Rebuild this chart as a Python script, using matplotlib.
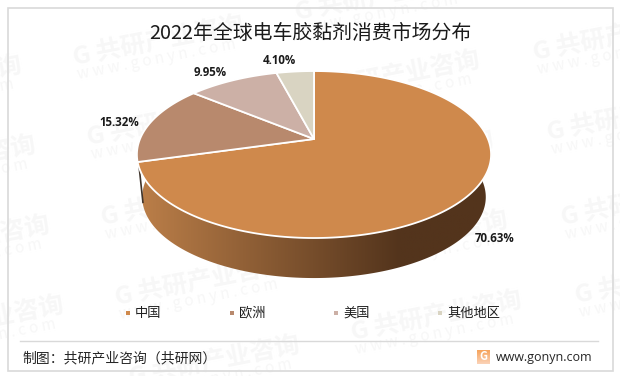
import numpy as np
import matplotlib
matplotlib.use("Agg")
import matplotlib.pyplot as plt
from matplotlib.colors import LinearSegmentedColormap
from matplotlib.patches import Polygon, Rectangle

plt.rcParams['font.family'] = ['Noto Sans CJK SC', 'DejaVu Sans']

# data
categorias = ['中国', '欧洲', '美国', '其他地区']
valores = [70.63, 15.32, 9.95, 4.10]
etiquetas = ['70.63%', '15.32%', '9.95%', '4.10%']
colores = ['#cf894c', '#b8896d', '#ccb0a6', '#d9d4c2']
etiqueta_pos = [(495, 239), (119.5, 122), (210, 73), (279, 60)]
leyenda_x = [126, 230, 334, 438]
marcas_agua = [(-147, 105), (-133, 185), (-119, 265), (-105, 345),
               (75, 65), (89, 145), (103, 225), (117, 305), (131, 385),
               (297, 20), (311, 100), (325, 180), (339, 260), (353, 340),
               (535, 60), (549, 140), (563, 225), (577, 303)]

W, H = 620, 376
fig = plt.figure(figsize=(W / 100, H / 100), dpi=100)
ax = fig.add_axes([0, 0, 1, 1])
ax.set_xlim(0, W)
ax.set_ylim(H, 0)
ax.axis('off')


# perspectiva del disco: el centro no cae en el centro de la elipse
def proyectar(ang, escala=1.0, dy=0.0):
    u, v = np.sin(ang), np.cos(ang)
    d = 1 + 0.186 * v
    return 314 + escala * 174 * u / d, 139 + dy - escala * 80.6 * v / d


# marco
marco = Rectangle((7.5, 7.5), 605.5, 363, fill=False, edgecolor='#d9d9d9', lw=1.2, zorder=2)
ax.add_patch(marco)
ax.plot([20, 598], [340.5, 340.5], color='#d9d9d9', lw=1, zorder=2)

# marcas de agua
for mx, my in marcas_agua:
    t1 = ax.text(mx, my, 'G 共研产业咨询', fontsize=18, fontweight='bold', color='#f7f7f7',
                 rotation=11, rotation_mode='anchor', ha='left', va='baseline', zorder=1)
    t2 = ax.text(mx + 3, my + 14, 'w w w . g o n y n . c o m', fontsize=11, color='#f7f7f7',
                 rotation=11, rotation_mode='anchor', ha='left', va='baseline', zorder=1)
    t1.set_clip_path(marco)
    t2.set_clip_path(marco)

# lateral del disco con degradado
ang = np.radians(np.linspace(90, 270, 200))
xs, ys = proyectar(ang)
xb, yb = proyectar(ang, 0.97, 43)
lateral = Polygon(np.r_[np.c_[xs, ys], np.c_[xb, yb][::-1]], closed=True,
                  facecolor='none', edgecolor='none', zorder=3)
ax.add_patch(lateral)
cmap = LinearSegmentedColormap.from_list('lado', [(0, '#bc7f49'), (0.74, '#53341c'), (1, '#53341c')])
grad = np.linspace(0, 1, 256).reshape(1, -1)
img = ax.imshow(grad, extent=[138, 492, 280, 150], cmap=cmap, aspect='auto', zorder=3)
img.set_clip_path(lateral)

# linea oscura del borde izquierdo
fin_china = 2 * np.pi * valores[0] / 100
x0, y0 = proyectar(fin_china)
x1, y1 = proyectar(fin_china, 0.97, 43)
ax.plot([x0 + 1, x1], [y0, y1 - 2], color='#40352c', lw=1.2, zorder=3)

# sectores
inicio = 0
for valor, color in zip(valores, colores):
    fin = inicio + 2 * np.pi * valor / 100
    t = np.linspace(inicio, fin, 200)
    px, py = proyectar(t)
    ax.add_patch(Polygon(np.r_[[[314, 139]], np.c_[px, py]], closed=True, facecolor=color,
                         edgecolor='white', lw=1.3, joinstyle='round', zorder=4))
    inicio = fin

# etiquetas
for (ex, ey), txt in zip(etiqueta_pos, etiquetas):
    ax.text(ex, ey, txt, fontsize=8.3, fontweight='bold', color='#1a1a1a', family='Open Sans',
            ha='center', va='center', zorder=5)

ax.text(310, 33, '2022年全球电车胶黏剂消费市场分布', fontsize=14.3, color='#1a1a1a',
        ha='center', va='center', zorder=5)

# leyenda
for lx, nombre, color in zip(leyenda_x, categorias, colores):
    ax.add_patch(Rectangle((lx, 311), 4, 4, facecolor=color, edgecolor='none', zorder=5))
    ax.text(lx + 9, 313, nombre, fontsize=9.5, color='#1f1f1f', ha='left', va='center', zorder=5)

# pie de pagina
ax.text(22, 358.5, '制图：共研产业咨询（共研网）', fontsize=10, color='#262626',
        ha='left', va='center', zorder=5)
icono = Rectangle((477, 350), 13, 14, facecolor='none', edgecolor='none', zorder=5)
ax.add_patch(icono)
cmap_ic = LinearSegmentedColormap.from_list('icono', ['#f6a35c', '#fbd3b8'])
ic = ax.imshow(np.linspace(0, 1, 32).reshape(-1, 1), extent=[477, 490, 364, 350], cmap=cmap_ic,
               aspect='auto', zorder=5)
ic.set_clip_path(icono)
ax.text(483.5, 357, 'G', fontsize=8, fontweight='bold', color='white', ha='center', va='center', zorder=6)
ax.text(496, 357, 'www.gonyn.com', fontsize=9, color='#262626', family='Open Sans',
        ha='left', va='center', zorder=5)

ax.set_xlim(0, W)
ax.set_ylim(H, 0)
fig.savefig('out.png', dpi=100)
